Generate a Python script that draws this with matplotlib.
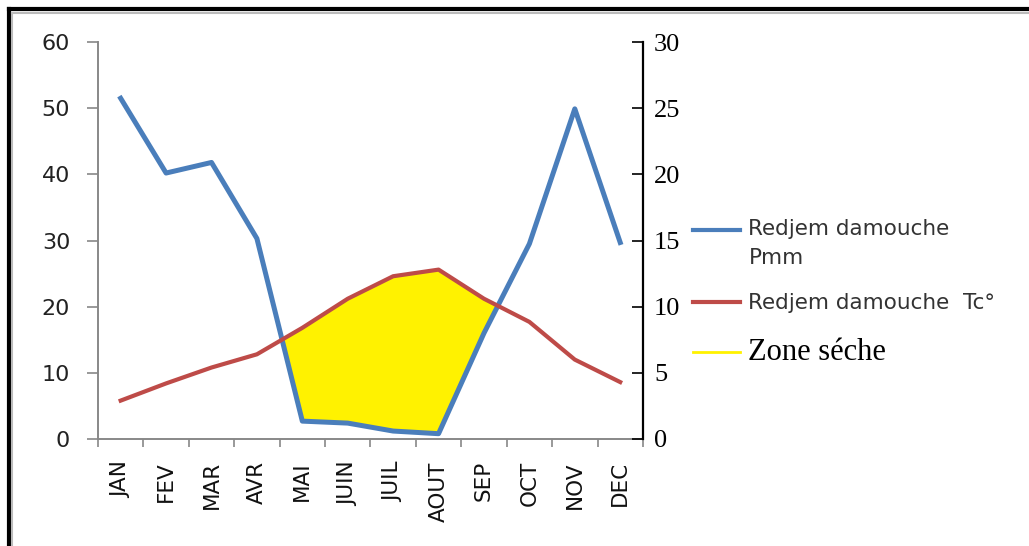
import matplotlib.pyplot as plt
from matplotlib.lines import Line2D
from matplotlib.legend_handler import HandlerLine2D
import numpy as np

# Data
months = ["JAN", "FEV", "MAR", "AVR", "MAI", "JUIN", "JUIL", "AOUT", "SEP", "OCT", "NOV", "DEC"]
precip = [51.5, 40.2, 41.8, 30.3, 2.7, 2.4, 1.2, 0.8, 16.0, 29.5, 49.9, 29.7]   # Pmm
temp = [2.9, 4.2, 5.4, 6.4, 8.4, 10.6, 12.3, 12.8, 10.6, 8.85, 6.0, 4.3]        # Tc°

blue = "#4A7EBB"
red = "#BE4B48"
yellow = "#FFF200"


class TopLineHandler(HandlerLine2D):
    # puts the legend line level with the first text line
    def __init__(self, shift=0, **kw):
        super().__init__(**kw)
        self.shift = shift

    def create_artists(self, legend, orig_handle, xdescent, ydescent, width, height, fontsize, trans):
        artists = super().create_artists(legend, orig_handle, xdescent, ydescent,
                                         width, height, fontsize, trans)
        for a in artists:
            a.set_ydata(np.asarray(a.get_ydata()) + self.shift)
        return artists


fig = plt.figure(figsize=(10.29, 5.46), dpi=100)
ax = fig.add_axes([0.0952, 0.196, 0.5296, 0.727])
ax2 = ax.twinx()

x = np.arange(len(months))
p = np.array(precip)
t2 = 2 * np.array(temp)  # temperature on the precipitation scale (P = 2T)

# Dry zone
ax.fill_between(x, p, t2, where=t2 >= p, interpolate=True, color=yellow, lw=0, zorder=1)
ax.plot(x, precip, color=blue, lw=3.6, zorder=3)
ax2.plot(x, temp, color=red, lw=3.0, zorder=3)

# Left axis
ax.set_ylim(0, 60)
ax.set_yticks(range(0, 61, 10))
ax.set_xlim(-0.5, len(months) - 0.5)
ax.set_xticks(np.arange(-0.5, len(months), 1))
ax.set_xticklabels([])
ax.set_xticks(x, minor=True)
ax.set_xticklabels(months, minor=True, rotation=90, va="top", fontsize=15.5, color="#111")
ax.tick_params(axis="x", which="major", length=6, width=1.2, color="#888")
ax.tick_params(axis="x", which="minor", length=0, pad=16)
ax.tick_params(axis="y", length=8, width=1.2, color="#888", pad=12, labelsize=16, labelcolor="#222")
for s in ["top", "right"]:
    ax.spines[s].set_visible(False)
for s in ["left", "bottom"]:
    ax.spines[s].set_color("#888")
    ax.spines[s].set_linewidth(1.4)

# Right axis
ax2.set_ylim(0, 30)
ax2.set_yticks(range(0, 31, 5))
ax2.tick_params(axis="y", direction="in", length=8, width=1.2, color="black", pad=8)
for lab in ax2.get_yticklabels():
    lab.set_fontfamily("Liberation Serif")
    lab.set_fontsize(19)
for s in ["top", "left", "bottom"]:
    ax2.spines[s].set_visible(False)
ax2.spines["right"].set_color("black")
ax2.spines["right"].set_linewidth(1.6)

# Legend
h_p = Line2D([], [], color=blue, lw=3)
h_t = Line2D([], [], color=red, lw=3)
h_z = Line2D([], [], color=yellow, lw=2)
labels = ["Redjem damouche\nPmm", "Redjem damouche  Tc°", "Zone séche"]
leg = fig.legend([h_p, h_t, h_z], labels, loc="upper left", bbox_to_anchor=(0.673, 0.598),
                 frameon=False, fontsize=15.5, handlelength=2.2, handletextpad=0.4,
                 borderpad=0, borderaxespad=0, labelspacing=1.15,
                 handler_map={h_p: TopLineHandler(shift=10.5)})
texts = leg.get_texts()
for txt in texts:
    txt.set_color("#333")
texts[0].set_linespacing(1.55)
texts[2].set_fontfamily("Liberation Serif")
texts[2].set_fontsize(22)
texts[2].set_color("black")

# Outer frame
fig.add_artist(Line2D([0.0085, 0.0085], [0, 0.983], color="black", lw=3))
fig.add_artist(Line2D([0.0085, 1], [0.983, 0.983], color="black", lw=3))
fig.add_artist(Line2D([0.0115, 0.0115], [0, 0.977], color="#bbb", lw=1.5))
fig.add_artist(Line2D([0.0115, 1], [0.977, 0.977], color="#bbb", lw=1.5))

fig.savefig("out.png", dpi=100)
